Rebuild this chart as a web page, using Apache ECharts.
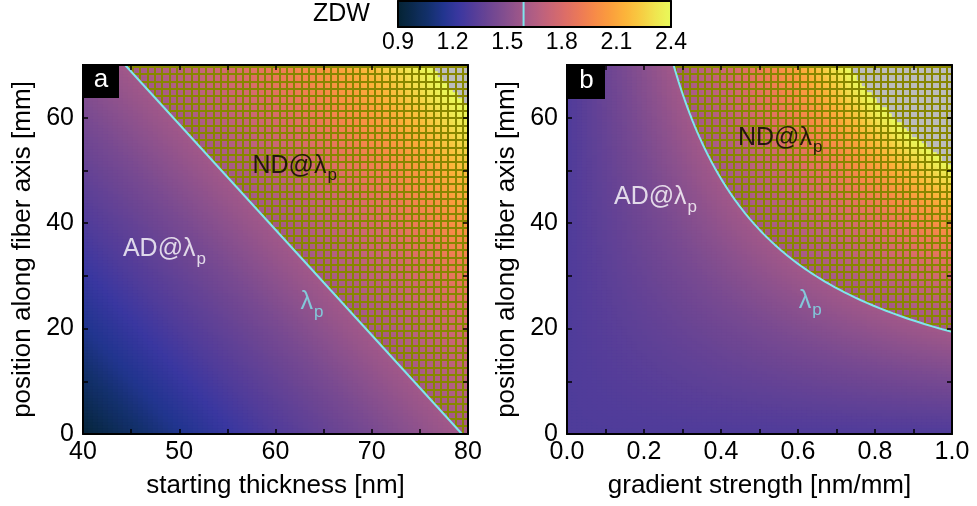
<!DOCTYPE html>
<html>
<head>
<meta charset="utf-8">
<script src="https://cdn.jsdelivr.net/npm/echarts@6/dist/echarts.min.js"></script>
<style>
html, body { margin: 0; padding: 0; background: #fff; }
#chart { width: 977px; height: 506px; }
</style>
</head>
<body>
<div id="chart"></div>
<script>
// Zero-dispersion wavelength (µm) of the film as a function of local thickness (nm)
const thicknessNm = [40, 45, 50, 55, 60, 65, 70, 75, 80, 85, 90, 95, 100, 105, 110, 115, 120, 125, 130];
const zdwUm = [0.92, 1.04, 1.14, 1.22, 1.30, 1.37, 1.44, 1.52, 1.60, 1.69, 1.79, 1.91, 2.04, 2.19, 2.37, 2.52, 2.66, 2.80, 2.94];
// pump wavelength (µm)
const lambdaP = 1.59;
// panel a: fixed gradient (nm/mm), starting thickness varied
const gradientA = 0.5;
const startThicknessRange = [40, 80];
// panel b: fixed starting thickness (nm), gradient varied
const startThicknessB = 60;
const gradientRange = [0, 1];
// position along the fiber axis (mm)
const positionRange = [0, 70];
// colour scale ticks
const zdwTicks = [0.9, 1.2, 1.5, 1.8, 2.1, 2.4];

const FONT = "'Liberation Sans', Arial, Helvetica, sans-serif";
const CYAN = '#7fe6ee';
const thermal = ['#042333', '#0b2a4f', '#13306c', '#22358f', '#3a37a0', '#543d99', '#6c4593',
  '#834e8f', '#9b568a', '#b25e83', '#c86577', '#dc6d68', '#ec7a57', '#f78b47', '#fb9e3d',
  '#fcb43a', '#f7cc42', '#efe650', '#e8fa5b'];

// piecewise-linear lookup in the ZDW table
function zdwAt(t) {
  if (t <= thicknessNm[0]) return zdwUm[0];
  for (let k = 1; k < thicknessNm.length; k++) {
    if (t <= thicknessNm[k]) {
      const f = (t - thicknessNm[k - 1]) / (thicknessNm[k] - thicknessNm[k - 1]);
      return zdwUm[k - 1] + f * (zdwUm[k] - zdwUm[k - 1]);
    }
  }
  return zdwUm[zdwUm.length - 1];
}
// thickness at which the ZDW equals a given wavelength
function thicknessFor(w) {
  for (let k = 1; k < zdwUm.length; k++) {
    if (w <= zdwUm[k]) {
      const f = (w - zdwUm[k - 1]) / (zdwUm[k] - zdwUm[k - 1]);
      return thicknessNm[k - 1] + f * (thicknessNm[k] - thicknessNm[k - 1]);
    }
  }
  return thicknessNm[thicknessNm.length - 1];
}

// heatmap cells: 5 px wide, 3 px tall on a 385 x 369 plot
const NX = 77, NY = 123;
const idxX = Array.from({ length: NX }, (_, i) => i);
const idxY = Array.from({ length: NY }, (_, j) => j);
const zMax = positionRange[1];

function cellZ(j) { return positionRange[0] + (j + 0.5) * (positionRange[1] - positionRange[0]) / NY; }

const fieldA = [], fieldB = [];
for (let j = 0; j < NY; j++) {
  const z = cellZ(j);
  for (let i = 0; i < NX; i++) {
    const t0 = startThicknessRange[0] + (i + 0.5) * (startThicknessRange[1] - startThicknessRange[0]) / NX;
    fieldA.push([i, j, zdwAt(t0 + gradientA * z)]);
    const g = gradientRange[0] + (i + 0.5) * (gradientRange[1] - gradientRange[0]) / NX;
    fieldB.push([i, j, zdwAt(startThicknessB + g * z)]);
  }
}

// contour ZDW = lambdaP
const tP = thicknessFor(lambdaP);
const contourA = [[tP, 0], [tP - gradientA * zMax, zMax]];
const contourB = [];
const zStartB = (tP - startThicknessB) / gradientRange[1];
for (let z = zStartB; z < zMax; z += 0.5) contourB.push([(tP - startThicknessB) / z, z]);
contourB.push([(tP - startThicknessB) / zMax, zMax]);

const hatchA = contourA.concat([[startThicknessRange[1], zMax], [startThicknessRange[1], 0]]);
const hatchB = contourB.concat([[gradientRange[1], zMax]]);

// olive grid hatch
function hatchCanvas() {
  const c = document.createElement('canvas');
  c.width = 22; c.height = 22;
  const g = c.getContext('2d');
  g.fillStyle = '#878600';
  [0, 7, 15].forEach(p => { g.fillRect(p, 0, 2, 22); g.fillRect(0, p, 22, 2); });
  return c;
}
const hatch = { image: hatchCanvas(), repeat: 'repeat' };

const frameLine = { show: true, onZero: false, lineStyle: { color: '#000', width: 2 } };
const tickIn = { show: true, inside: true, length: 5, lineStyle: { color: '#000', width: 1.5 } };
const labelStyle = { color: '#000', fontSize: 25, fontFamily: FONT };

function valueX(grid, pos, min, max, interval, fmt, name) {
  return {
    type: 'value', gridIndex: grid, position: pos, min, max, interval, z: 10,
    axisLine: frameLine, axisTick: tickIn, splitLine: { show: false },
    axisLabel: fmt ? Object.assign({ show: true, margin: 6, formatter: fmt, showMinLabel: true, showMaxLabel: true }, labelStyle) : { show: false },
    name: name || '', nameLocation: 'middle', nameGap: 39,
    nameTextStyle: { color: '#000', fontSize: 26, fontFamily: FONT }
  };
}
function valueY(grid, pos, fmt, name) {
  return {
    type: 'value', gridIndex: grid, position: pos, min: positionRange[0], max: positionRange[1], interval: 10, z: 10,
    axisLine: frameLine, axisTick: tickIn, splitLine: { show: false },
    axisLabel: fmt ? Object.assign({ show: true, margin: 9, formatter: fmt }, labelStyle) : { show: false },
    name: name || '', nameLocation: 'middle', nameGap: 47,
    nameTextStyle: { color: '#000', fontSize: 26, fontFamily: FONT }
  };
}
const catX = (grid) => ({ type: 'category', gridIndex: grid, data: idxX, show: false });
const catY = (grid) => ({ type: 'category', gridIndex: grid, data: idxY, show: false });

const fmtA = v => (v % 10 === 0 ? String(v) : '');
const fmtB = v => (Math.round(v * 10) % 2 === 0 ? v.toFixed(1) : '');
const fmtY = v => (v % 20 === 0 ? String(v) : '');

function textLabel(xi, yi, x, y, main, color) {
  return {
    type: 'scatter', xAxisIndex: xi, yAxisIndex: yi, symbolSize: 0, silent: true, z: 8,
    data: [[x, y]],
    label: {
      show: true, position: 'right', distance: 0,
      formatter: '{m|' + main + '}{s|p}',
      rich: {
        m: { fontSize: 25, fontFamily: FONT, color, lineHeight: 30 },
        s: { fontSize: 17, fontFamily: FONT, color, lineHeight: 20, padding: [20, 0, 0, 1] }
      }
    }
  };
}

const chart = echarts.init(document.getElementById('chart'), null, { renderer: 'canvas' });
chart.setOption({
  animation: false,
  backgroundColor: '#fff',
  title: {
    text: 'ZDW', left: 313, top: 2, padding: 0,
    textStyle: { fontSize: 25, fontWeight: 'normal', color: '#000', fontFamily: FONT }
  },
  grid: [
    { left: 83, top: 65, width: 385, height: 369 },
    { left: 567, top: 65, width: 385, height: 369 },
    { left: 398, top: 1, width: 273, height: 26 }
  ],
  xAxis: [
    valueX(0, 'bottom', startThicknessRange[0], startThicknessRange[1], 5, fmtA, 'starting thickness [nm]'),
    valueX(0, 'top', startThicknessRange[0], startThicknessRange[1], 5, null),
    catX(0),
    valueX(1, 'bottom', gradientRange[0], gradientRange[1], 0.1, fmtB, 'gradient strength [nm/mm]'),
    valueX(1, 'top', gradientRange[0], gradientRange[1], 0.1, null),
    catX(1),
    {
      type: 'value', gridIndex: 2, position: 'bottom', min: zdwTicks[0], max: zdwTicks[zdwTicks.length - 1],
      interval: 0.3, z: 10, axisLine: frameLine, axisTick: { show: false }, splitLine: { show: false },
      axisLabel: Object.assign({ margin: 4, showMinLabel: true, showMaxLabel: true, formatter: v => v.toFixed(1) }, labelStyle, { fontSize: 23 })
    },
    { type: 'value', gridIndex: 2, position: 'top', min: zdwTicks[0], max: zdwTicks[zdwTicks.length - 1], z: 10,
      axisLine: frameLine, axisTick: { show: false }, axisLabel: { show: false }, splitLine: { show: false } }
  ],
  yAxis: [
    valueY(0, 'left', fmtY, 'position along fiber axis [mm]'),
    valueY(0, 'right', null),
    catY(0),
    valueY(1, 'left', fmtY, 'position along fiber axis [mm]'),
    valueY(1, 'right', null),
    catY(1),
    { type: 'value', gridIndex: 2, position: 'left', min: 0, max: 1, z: 10, axisLine: frameLine,
      axisTick: { show: false }, axisLabel: { show: false }, splitLine: { show: false } },
    { type: 'value', gridIndex: 2, position: 'right', min: 0, max: 1, z: 10, axisLine: frameLine,
      axisTick: { show: false }, axisLabel: { show: false }, splitLine: { show: false } }
  ],
  visualMap: {
    type: 'continuous', min: zdwTicks[0], max: zdwTicks[zdwTicks.length - 1],
    range: [zdwTicks[0], zdwTicks[zdwTicks.length - 1] - 1e-6],
    seriesIndex: [0, 1], dimension: 2,
    orient: 'horizontal', left: 398, top: 1, itemWidth: 26, itemHeight: 273, padding: 0,
    calculable: false, hoverLink: false, text: null, z: 1,
    inRange: { color: thermal }, outOfRange: { color: '#bcbcbc' }
  },
  series: [
    { type: 'heatmap', xAxisIndex: 2, yAxisIndex: 2, data: fieldA, progressive: 0, silent: true, z: 1,
      itemStyle: { borderWidth: 0 }, emphasis: { disabled: true } },
    { type: 'heatmap', xAxisIndex: 5, yAxisIndex: 5, data: fieldB, progressive: 0, silent: true, z: 1,
      itemStyle: { borderWidth: 0 }, emphasis: { disabled: true } },
    { type: 'custom', xAxisIndex: 0, yAxisIndex: 0, silent: true, z: 3, data: [[startThicknessRange[0], 0]],
      renderItem: (p, api) => ({ type: 'polygon', shape: { points: hatchA.map(q => api.coord(q)) }, style: { fill: hatch, stroke: null } }) },
    { type: 'custom', xAxisIndex: 3, yAxisIndex: 3, silent: true, z: 3, data: [[gradientRange[0], 0]],
      renderItem: (p, api) => ({ type: 'polygon', shape: { points: hatchB.map(q => api.coord(q)) }, style: { fill: hatch, stroke: null } }) },
    { type: 'line', xAxisIndex: 0, yAxisIndex: 0, data: contourA, showSymbol: false, silent: true, z: 4,
      lineStyle: { color: CYAN, width: 2 } },
    { type: 'line', xAxisIndex: 3, yAxisIndex: 3, data: contourB, showSymbol: false, silent: true, z: 4, smooth: false,
      lineStyle: { color: CYAN, width: 2 } },
    { type: 'line', xAxisIndex: 6, yAxisIndex: 6, data: [[lambdaP, 0], [lambdaP, 1]], showSymbol: false, silent: true, z: 6,
      lineStyle: { color: CYAN, width: 2 } },
    textLabel(0, 0, 57.6, 50.9, 'ND@λ', '#000'),
    textLabel(0, 0, 44.15, 35.1, 'AD@λ', '#fff'),
    textLabel(0, 0, 62.6, 25.0, 'λ', CYAN),
    textLabel(3, 3, 0.444, 56.2, 'ND@λ', '#000'),
    textLabel(3, 3, 0.122, 44.9, 'AD@λ', '#fff'),
    textLabel(3, 3, 0.602, 25.3, 'λ', CYAN)
  ],
  graphic: [
    { type: 'rect', left: 82, top: 64, shape: { width: 37, height: 34 }, style: { fill: '#000' }, z: 20 },
    { type: 'text', z: 21, style: { text: 'a', x: 101, y: 80, align: 'center', verticalAlign: 'middle', fill: '#fff', font: '26px ' + FONT } },
    { type: 'rect', left: 566, top: 64, shape: { width: 39, height: 35 }, style: { fill: '#000' }, z: 20 },
    { type: 'text', z: 21, style: { text: 'b', x: 586.5, y: 81, align: 'center', verticalAlign: 'middle', fill: '#fff', font: '26px ' + FONT } }
  ]
});
</script>
</body>
</html>
